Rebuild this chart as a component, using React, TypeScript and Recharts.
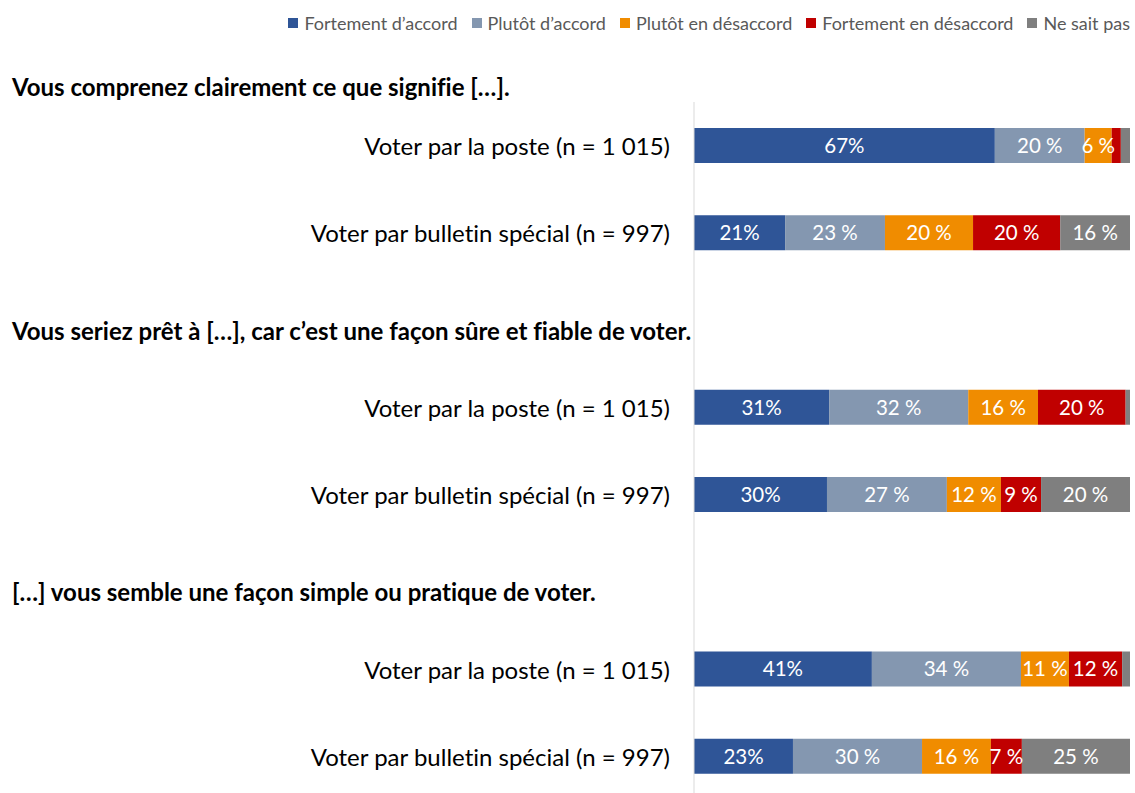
import React from "react";
import { BarChart, Bar, XAxis, YAxis, Legend, LabelList } from "recharts";

const rowIds = ["r1", "r2", "g2", "r3", "r4", "g3", "r5", "r6"];
const rowLabels = [
  "Voter par la poste (n = 1 015)",
  "Voter par bulletin spécial (n = 997)",
  "",
  "Voter par la poste (n = 1 015)",
  "Voter par bulletin spécial (n = 997)",
  "",
  "Voter par la poste (n = 1 015)",
  "Voter par bulletin spécial (n = 997)",
];
const headers = [
  { row: 0, text: "Vous comprenez clairement ce que signifie […]." },
  { row: 3, text: "Vous seriez prêt à […], car c’est une façon sûre et fiable de voter." },
  { row: 6, text: "[…] vous semble une façon simple ou pratique de voter." },
];
const headerOffsets = [-50, -67, -68];

const seriesNames = [
  "Fortement d’accord",
  "Plutôt d’accord",
  "Plutôt en désaccord",
  "Fortement en désaccord",
  "Ne sait pas",
];
const seriesColors = ["#2F5597", "#8497B0", "#F08C00", "#C00000", "#7F7F7F"];

const fortAccord = [69, 20.9, null, 31, 30.5, null, 40.8, 22.7];
const plutotAccord = [20.6, 22.9, null, 31.9, 27.5, null, 34.2, 29.6];
const plutotDesaccord = [6.2, 20.2, null, 16, 12.4, null, 11, 15.8];
const fortDesaccord = [2.1, 20, null, 20.1, 9.2, null, 12.2, 7.1];
const neSaitPas = [2.1, 16, null, 1, 20.4, null, 1.8, 24.8];

const fortAccordLabels = ["67%", "21%", "", "31%", "30%", "", "41%", "23%"];
const plutotAccordLabels = ["20 %", "23 %", "", "32 %", "27 %", "", "34 %", "30 %"];
const plutotDesaccordLabels = ["6 %", "20 %", "", "16 %", "12 %", "", "11 %", "16 %"];
const fortDesaccordLabels = ["", "20 %", "", "20 %", "9 %", "", "12 %", "7 %"];
const neSaitPasLabels = ["", "16 %", "", "", "20 %", "", "", "25 %"];

const seriesValues = [fortAccord, plutotAccord, plutotDesaccord, fortDesaccord, neSaitPas];
const seriesLabels = [
  fortAccordLabels,
  plutotAccordLabels,
  plutotDesaccordLabels,
  fortDesaccordLabels,
  neSaitPasLabels,
];

const data = rowIds.map((id, i) => {
  const row: any = { id, label: rowLabels[i] };
  seriesValues.forEach((vals, s) => {
    row["s" + s] = vals[i];
    row["l" + s] = seriesLabels[s][i];
  });
  return row;
});

const FONT = "Lato, 'Open Sans', sans-serif";
const noLig = { fontVariantLigatures: "none" as const };

const Tick = (props: any) => {
  const { x, y, index } = props;
  const hIdx = headers.findIndex((h) => h.row === index);
  return (
    <g>
      <text
        x={x}
        y={y}
        textAnchor="end"
        dominantBaseline="central"
        fontFamily={FONT}
        fontSize={24}
        fill="#000"
        style={noLig}
      >
        {rowLabels[index]}
      </text>
      {hIdx >= 0 && (
        <text
          x={12}
          y={y + headerOffsets[hIdx]}
          textAnchor="start"
          fontFamily={FONT}
          fontWeight="bold"
          fontSize={24}
          fill="#000"
          style={noLig}
        >
          {headers[hIdx].text}
        </text>
      )}
    </g>
  );
};

const LegendContent = () => (
  <div
    style={{
      display: "flex",
      justifyContent: "flex-end",
      alignItems: "center",
      paddingRight: 5,
      fontFamily: FONT,
      fontSize: 18,
      color: "#595959",
      whiteSpace: "nowrap",
      fontVariantLigatures: "none",
    }}
  >
    {seriesNames.map((n, i) => (
      <span key={n} style={{ display: "flex", alignItems: "center", marginLeft: i === 0 ? 0 : 14 }}>
        <span
          style={{
            display: "inline-block",
            width: 10,
            height: 10,
            background: seriesColors[i],
            marginRight: 6,
          }}
        />
        {n}
      </span>
    ))}
  </div>
);

export default function App() {
  return (
    <div
      style={{
        position: "fixed",
        left: 0,
        top: 0,
        width: 1135,
        height: 793,
        overflow: "hidden",
        background: "#fff",
      }}
    >
      <BarChart
        width={1135}
        height={800}
        data={data}
        layout="vertical"
        margin={{ top: 72, right: 5, bottom: 0, left: 0 }}
        barSize={35}
      >
        <Legend
          verticalAlign="top"
          height={30}
          wrapperStyle={{ top: 12, left: 0, width: 1135 }}
          content={<LegendContent />}
        />
        <XAxis type="number" domain={[0, 100]} hide />
        <YAxis
          type="category"
          dataKey="id"
          width={694}
          axisLine={{ stroke: "#D9D9D9", strokeWidth: 1 }}
          tickLine={false}
          tickSize={0}
          tickMargin={24}
          tick={<Tick />}
          interval={0}
        />
        {seriesNames.map((n, s) => (
          <Bar
            key={n}
            dataKey={"s" + s}
            name={n}
            stackId="a"
            fill={seriesColors[s]}
            isAnimationActive={false}
          >
            <LabelList
              dataKey={"l" + s}
              position="center"
              fill="#fff"
              fontFamily={FONT}
              fontSize={20.5}
            />
          </Bar>
        ))}
      </BarChart>
    </div>
  );
}
